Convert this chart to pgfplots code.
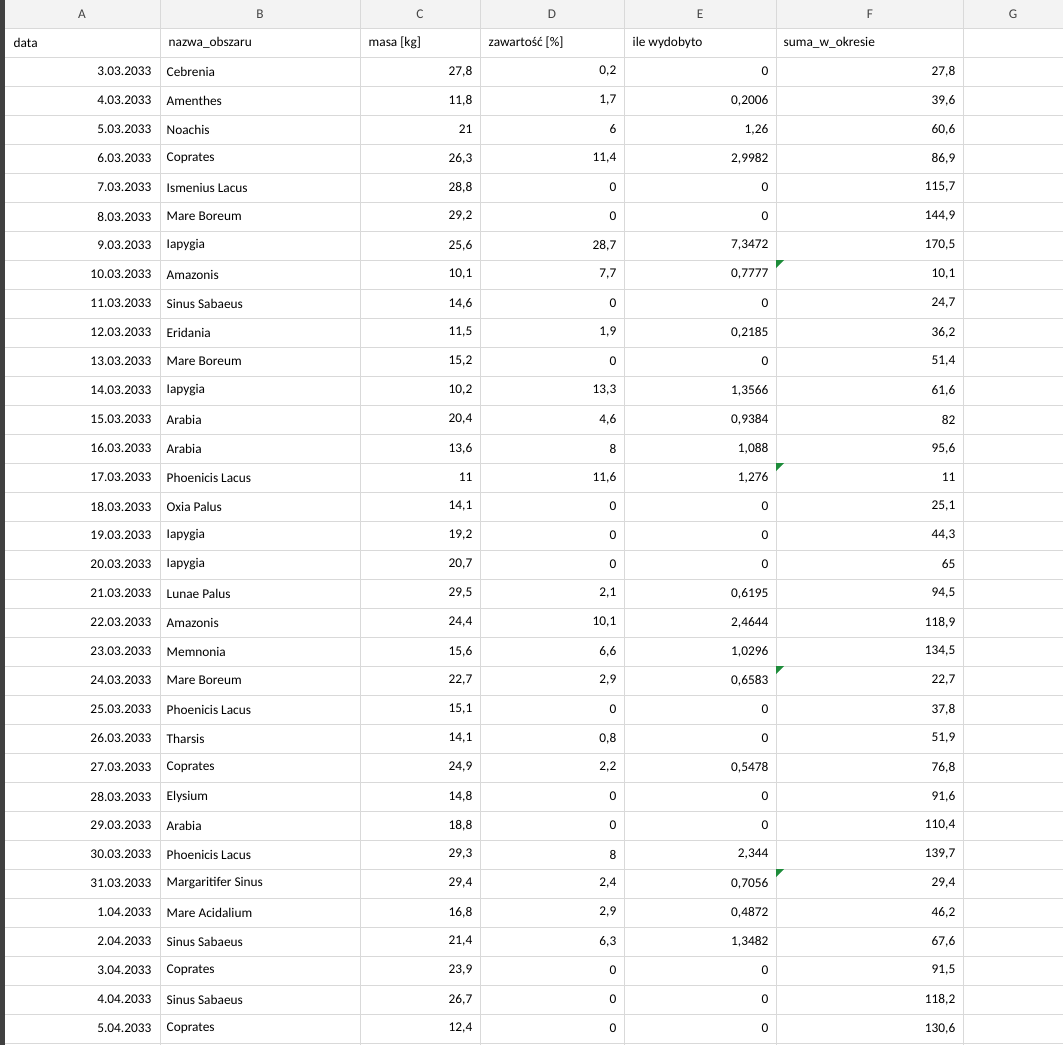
\documentclass[border=0pt]{standalone}
\usepackage{pgfplots}
\pgfplotsset{compat=1.18}
\usepackage{fontspec}
\setmainfont{Carlito}
\definecolor{gridc}{HTML}{D9D9D9}
\definecolor{hdr}{HTML}{F3F3F3}
\definecolor{hdrtxt}{HTML}{444444}
\definecolor{tri}{HTML}{1E8C3A}
\newcommand{\R}[7]{%
\node[anchor=east] at (axis cs:156,{71.5+29*#1}) {#2};
\node[anchor=west] at (axis cs:162,{71.5+29*#1}) {#3};
\node[anchor=east] at (axis cs:477,{71.5+29*#1}) {#4};
\node[anchor=east] at (axis cs:621,{71.5+29*#1}) {#5};
\node[anchor=east] at (axis cs:773,{71.5+29*#1}) {#6};
\node[anchor=east] at (axis cs:960,{71.5+29*#1}) {#7};
}
\newcommand{\T}[1]{\fill[tri] (axis cs:776,{57+29*#1}) -- (axis cs:784,{57+29*#1}) -- (axis cs:776,{65+29*#1}) -- cycle;}
\begin{document}
\begin{tikzpicture}
\begin{axis}[hide axis, scale only axis, width=797.25pt, height=783.75pt,
 xmin=0,xmax=1063,ymin=0,ymax=1045, y dir=reverse, clip=true,
 every node/.style={font=\fontsize{14}{16}\selectfont, inner sep=0pt}]
\fill[hdr] (axis cs:0,0) rectangle (axis cs:1063,28);
\fill[black!75] (axis cs:0,0) rectangle (axis cs:5,1045);
\pgfplotsinvokeforeach{160,360,480,624,776,963}{\draw[gridc] (axis cs:#1,0) -- (axis cs:#1,1045);}
\pgfplotsinvokeforeach{0,...,35}{\draw[gridc] (axis cs:5,{28+29*#1}) -- (axis cs:1063,{28+29*#1});}
\node[text=hdrtxt] at (axis cs:82,14) {A};
\node[text=hdrtxt] at (axis cs:260,14) {B};
\node[text=hdrtxt] at (axis cs:420,14) {C};
\node[text=hdrtxt] at (axis cs:552,14) {D};
\node[text=hdrtxt] at (axis cs:700,14) {E};
\node[text=hdrtxt] at (axis cs:870,14) {F};
\node[text=hdrtxt] at (axis cs:1013,14) {G};
\node[anchor=west] at (axis cs:9,42.5) {data};
\node[anchor=west] at (axis cs:164,42.5) {nazwa\_obszaru};
\node[anchor=west] at (axis cs:364,42.5) {masa [kg]};
\node[anchor=west] at (axis cs:484,42.5) {zawartość [\%]};
\node[anchor=west] at (axis cs:628,42.5) {ile wydobyto};
\node[anchor=west] at (axis cs:779,42.5) {suma\_w\_okresie};
\R{0}{3.03.2033}{Cebrenia}{27,8}{0,2}{0}{27,8}
\R{1}{4.03.2033}{Amenthes}{11,8}{1,7}{0,2006}{39,6}
\R{2}{5.03.2033}{Noachis}{21}{6}{1,26}{60,6}
\R{3}{6.03.2033}{Coprates}{26,3}{11,4}{2,9982}{86,9}
\R{4}{7.03.2033}{Ismenius Lacus}{28,8}{0}{0}{115,7}
\R{5}{8.03.2033}{Mare Boreum}{29,2}{0}{0}{144,9}
\R{6}{9.03.2033}{Iapygia}{25,6}{28,7}{7,3472}{170,5}
\R{7}{10.03.2033}{Amazonis}{10,1}{7,7}{0,7777}{10,1}
\R{8}{11.03.2033}{Sinus Sabaeus}{14,6}{0}{0}{24,7}
\R{9}{12.03.2033}{Eridania}{11,5}{1,9}{0,2185}{36,2}
\R{10}{13.03.2033}{Mare Boreum}{15,2}{0}{0}{51,4}
\R{11}{14.03.2033}{Iapygia}{10,2}{13,3}{1,3566}{61,6}
\R{12}{15.03.2033}{Arabia}{20,4}{4,6}{0,9384}{82}
\R{13}{16.03.2033}{Arabia}{13,6}{8}{1,088}{95,6}
\R{14}{17.03.2033}{Phoenicis Lacus}{11}{11,6}{1,276}{11}
\R{15}{18.03.2033}{Oxia Palus}{14,1}{0}{0}{25,1}
\R{16}{19.03.2033}{Iapygia}{19,2}{0}{0}{44,3}
\R{17}{20.03.2033}{Iapygia}{20,7}{0}{0}{65}
\R{18}{21.03.2033}{Lunae Palus}{29,5}{2,1}{0,6195}{94,5}
\R{19}{22.03.2033}{Amazonis}{24,4}{10,1}{2,4644}{118,9}
\R{20}{23.03.2033}{Memnonia}{15,6}{6,6}{1,0296}{134,5}
\R{21}{24.03.2033}{Mare Boreum}{22,7}{2,9}{0,6583}{22,7}
\R{22}{25.03.2033}{Phoenicis Lacus}{15,1}{0}{0}{37,8}
\R{23}{26.03.2033}{Tharsis}{14,1}{0,8}{0}{51,9}
\R{24}{27.03.2033}{Coprates}{24,9}{2,2}{0,5478}{76,8}
\R{25}{28.03.2033}{Elysium}{14,8}{0}{0}{91,6}
\R{26}{29.03.2033}{Arabia}{18,8}{0}{0}{110,4}
\R{27}{30.03.2033}{Phoenicis Lacus}{29,3}{8}{2,344}{139,7}
\R{28}{31.03.2033}{Margaritifer Sinus}{29,4}{2,4}{0,7056}{29,4}
\R{29}{1.04.2033}{Mare Acidalium}{16,8}{2,9}{0,4872}{46,2}
\R{30}{2.04.2033}{Sinus Sabaeus}{21,4}{6,3}{1,3482}{67,6}
\R{31}{3.04.2033}{Coprates}{23,9}{0}{0}{91,5}
\R{32}{4.04.2033}{Sinus Sabaeus}{26,7}{0}{0}{118,2}
\R{33}{5.04.2033}{Coprates}{12,4}{0}{0}{130,6}
\T{7}\T{14}\T{21}\T{28}
\end{axis}
\end{tikzpicture}
\end{document}
